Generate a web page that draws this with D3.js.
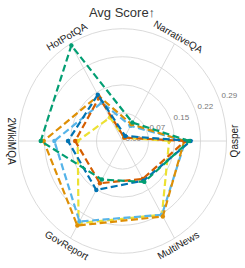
<!DOCTYPE html>
<head>
    <meta charset="utf-8">
    <title>Avg Score radar</title>
    <style>
        body { margin: 0; background: #fff; }
        text { font-family: "Liberation Sans", Arial, sans-serif; }
        text#title { font-size: 13px; fill: #333; }
        text.axis_label { font-size: 10px; fill: #222; }
        text.tick_label { font-size: 8px; fill: #777; }
    </style>
    <script type="text/javascript" src="https://cdn.jsdelivr.net/npm/d3@7"></script>
</head>
<body>
    <script>
        // chart data
        var axes = ["Qasper", "NarrativeQA", "HotPotQA", "2WikiMQA", "GovReport", "MultiNews"];
        var seriesNames = ["yellow", "lightblue", "orange", "vermillion", "blue", "green"];
        var seriesColors = ["#ece133", "#56b4e9", "#de8f05", "#d55e00", "#0173b2", "#029e73"];
        var yellowVals     = [0.130, 0.010, 0.070, 0.125, 0.245, 0.220];
        var lightblueVals  = [0.175, 0.045, 0.115, 0.190, 0.240, 0.220];
        var orangeVals     = [0.172, 0.050, 0.135, 0.220, 0.252, 0.225];
        var vermillionVals = [0.175, 0.010, 0.130, 0.132, 0.126, 0.113];
        var blueVals       = [0.190, 0.015, 0.138, 0.152, 0.146, 0.118];
        var greenVals      = [0.186, 0.055, 0.285, 0.228, 0.115, 0.122];
        var tickValues = [0, 0.0725, 0.145, 0.2175, 0.29];
        var tickLabels = ["0.00", "0.07", "0.15", "0.22", "0.29"];

        var series = [yellowVals, lightblueVals, orangeVals, vermillionVals, blueVals, greenVals]
            .map(function (v, i) { return { name: seriesNames[i], color: seriesColors[i], values: v }; });

        var width = 245, height = 268;
        var cx = 122.5, cy = 141, R = 104, ky = 1.08;  // picture is a bit taller than wide

        var r = d3.scaleLinear().domain([0, 0.29]).range([0, R]);
        // six evenly spaced axes, counter clockwise from Qasper
        function ang(name) { return axes.indexOf(name) * 60; }
        function px(v, a) { return cx + r(v) * Math.cos(a * Math.PI / 180); }
        function py(v, a) { return cy - r(v) * ky * Math.sin(a * Math.PI / 180); }

        var svg = d3.select("body")
            .append("svg")
            .attr("width", width)
            .attr("height", height);

        svg.append("text")
            .attr("id", "title")
            .attr("x", 122)
            .attr("y", 17)
            .style("text-anchor", "middle")
            .text("Avg Score\u2191");

        var grid = svg.append("g").attr("id", "grid");

        grid.selectAll("ellipse")
            .data(tickValues.slice(1))
            .enter()
            .append("ellipse")
            .attr("cx", cx)
            .attr("cy", cy)
            .attr("rx", d => r(d))
            .attr("ry", d => r(d) * ky)
            .attr("fill", "none")
            .attr("stroke", "#d0d0d0")
            .attr("stroke-width", 0.8);

        grid.selectAll("line")
            .data(axes)
            .enter()
            .append("line")
            .attr("x1", cx)
            .attr("y1", cy)
            .attr("x2", d => px(0.29, ang(d)))
            .attr("y2", d => py(0.29, ang(d)))
            .attr("stroke", "#d0d0d0")
            .attr("stroke-width", 0.8);

        grid.selectAll("text")
            .data(tickValues)
            .enter()
            .append("text")
            .attr("class", "tick_label")
            .attr("x", d => px(d, 22.5) + 3)
            .attr("y", d => py(d, 22.5))
            .text((d, i) => tickLabels[i]);

        // axis names, turned along the circle
        svg.selectAll("text.axis_label")
            .data(axes)
            .enter()
            .append("text")
            .attr("class", "axis_label")
            .attr("transform", function (d) {
                var a = ang(d);
                var lr = 0.29 * (R + 7.5) / R;
                var rot = (a > 0 && a < 180) ? 90 - a : 270 - (a === 0 ? 360 : a);
                return "translate(" + px(lr, a) + "," + py(lr, a) + ") rotate(" + rot + ")";
            })
            .attr("dominant-baseline", "central")
            .style("text-anchor", "middle")
            .text(d => d);

        var line = d3.line()
            .x((d, i) => px(d, ang(axes[i])))
            .y((d, i) => py(d, ang(axes[i])))
            .curve(d3.curveLinearClosed);

        var plots = svg.append("g").attr("id", "series")
            .selectAll("g")
            .data(series)
            .enter()
            .append("g");

        plots.append("path")
            .attr("d", d => line(d.values))
            .attr("fill", "none")
            .attr("stroke", d => d.color)
            .attr("stroke-width", 2.2)
            .attr("stroke-dasharray", "7,3.5");

        plots.selectAll("circle")
            .data(d => d.values.map(v => ({ v: v, color: d.color })))
            .enter()
            .append("circle")
            .attr("cx", (d, i) => px(d.v, ang(axes[i])))
            .attr("cy", (d, i) => py(d.v, ang(axes[i])))
            .attr("r", 2.2)
            .attr("fill", d => d.color);
    </script>
</body>
